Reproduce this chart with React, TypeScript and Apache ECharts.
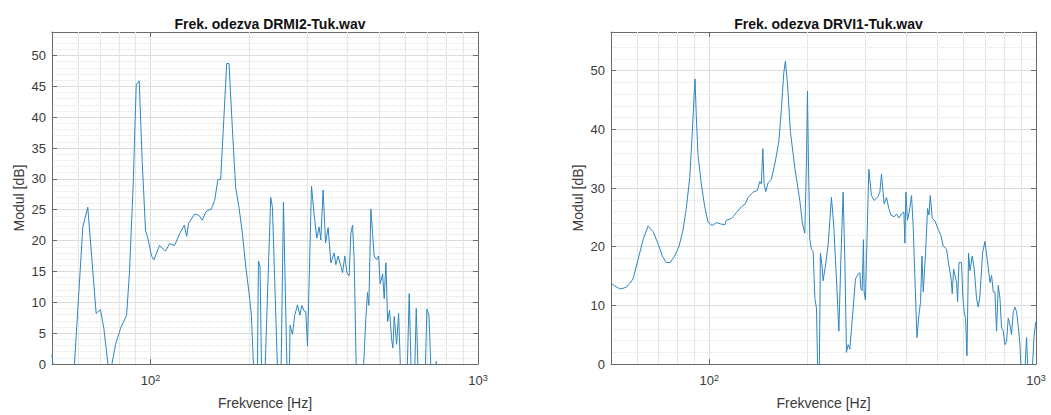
import React, { useEffect, useRef } from 'react';
import * as echarts from 'echarts';

// ---- Data ----
const titles = ['Frek. odezva DRMI2-Tuk.wav', 'Frek. odezva DRVI1-Tuk.wav'];
const xName = 'Frekvence [Hz]';
const yName = 'Modul [dB]';

const leftFreq = [50, 50.9, 58.1, 62.1, 64.3, 68.2, 70.3, 72.0, 74.1, 75.2, 76.2, 78.2, 81.0, 84.5, 86.2, 88.5, 90.4, 92.3, 94.3, 96.5, 98.4, 100.7, 102.4, 106.5, 111.1, 114.3, 118.4, 122.9, 126.8, 128.9, 130.7, 136.3, 140.5, 143.9, 147.3, 149.7, 153.3, 156.9, 160.6, 163.7, 166.8, 170.8, 173.6, 177.8, 181.9, 186.2, 190.7, 195.2, 199.8, 203.2, 206.1, 209.4, 211.7, 213.5, 215.9, 218.8, 222.4, 232.8, 235.6, 245.5, 249.8, 254.6, 262.0, 265.2, 266.7, 271.3, 275.7, 281.0, 285.6, 289.7, 294.4, 297.9, 301.5, 310.1, 315.8, 321.8, 327.1, 331.1, 336.5, 342.3, 348.6, 355.3, 363.7, 368.0, 374.0, 381.1, 385.7, 392.0, 397.6, 404.1, 409.0, 413.9, 418.6, 425.6, 444.9, 454.4, 459.9, 464.2, 470.8, 476.4, 481.9, 490.1, 497.0, 502.7, 511.3, 517.1, 523.4, 529.7, 537.0, 544.7, 549.7, 554.8, 564.2, 572.2, 581.5, 606.6, 616.5, 626.1, 639.5, 647.7, 657.7, 688.6, 698.3, 708.3, 720.8, 738.8, 745.6, 751.9, 1000];
const leftDb = [1.5, -3, -3, 22.2, 25.4, 8.2, 8.8, 5.8, 0, -3, 0, 3.2, 5.8, 7.9, 14.8, 29.1, 45.2, 45.9, 32.8, 21.7, 20.1, 17.5, 16.9, 19.2, 18.3, 19.5, 19.2, 21.2, 22.5, 20.7, 22.8, 24.3, 24.1, 23.3, 24.6, 24.9, 25.1, 26.5, 29.9, 29.9, 38.1, 48.7, 48.7, 38.1, 28.6, 25.4, 21.2, 15.9, 11.6, 7.9, 0, -8, -5, 16.7, 15.9, -5, -5, 27.0, 25.4, -5, -5, 26.2, -5, -3, 6.3, 4.8, 7.9, 9.6, 7.9, 9.5, 8.6, 8.5, 2.9, 28.8, 24.3, 20.4, 22.2, 20.1, 28.2, 19.6, 22.1, 16.4, 18.0, 16.1, 17.5, 15.9, 14.8, 17.5, 14.8, 14.3, 21.2, 22.5, 16.9, -3, -3, 7.4, 11.6, 9.5, 25.1, 21.2, 17.5, 16.9, 17.5, 13.0, 14.6, 10.6, 16.4, 6.9, 8.7, 4.0, 2.6, 7.7, 3.2, 8.2, -3, -3, 11.4, -3, -3, 9.0, -3, -3, 8.9, 7.9, -3, -3, 0.4, -3, -3];

const rightFreq = [50, 51.3, 53.2, 54.4, 55.7, 57.0, 58.4, 60.5, 62.7, 64.9, 67.2, 69.6, 71.8, 73.8, 75.9, 78.3, 80.8, 83.1, 85.0, 87.1, 88.5, 89.8, 90.4, 91.2, 92.3, 94.5, 96.8, 99.1, 101.9, 105.1, 108.1, 111.5, 112.7, 116.8, 121.0, 125.3, 128.9, 131.4, 136.1, 140.3, 142.7, 144.3, 145.8, 147.1, 148.9, 151.3, 154.9, 159.3, 163.2, 166.2, 169.0, 170.9, 173.4, 177.1, 182.7, 189.2, 192.7, 196.0, 198.3, 199.7, 201.1, 203.1, 205.4, 207.9, 210.4, 212.8, 215.3, 216.8, 218.8, 221.4, 222.9, 226.7, 231.0, 236.5, 240.5, 245.0, 249.2, 252.7, 256.8, 259.9, 262.9, 266.0, 269.2, 275.6, 280.1, 285.5, 288.9, 291.0, 293.6, 296.3, 297.8, 300.5, 302.7, 307.8, 313.5, 319.6, 327.1, 332.7, 336.5, 342.9, 348.5, 354.5, 359.6, 368.1, 374.1, 380.5, 387.5, 394.1, 396.9, 399.7, 404.3, 409.2, 415.9, 420.9, 426.0, 432.1, 438.2, 443.2, 447.6, 451.7, 459.1, 465.6, 470.2, 474.6, 481.3, 490.6, 502.1, 511.7, 520.0, 532.3, 541.4, 549.1, 554.2, 559.3, 564.9, 571.3, 575.4, 581.1, 591.6, 597.5, 603.0, 608.6, 614.7, 621.7, 627.9, 638.1, 647.1, 657.7, 665.6, 673.6, 686.1, 697.8, 709.2, 723.0, 731.1, 739.9, 748.8, 757.3, 766.4, 775.7, 784.5, 793.9, 803.5, 812.6, 822.3, 832.3, 841.7, 851.9, 862.2, 872.0, 882.5, 893.1, 903.3, 920.7, 935.7, 947.0, 969.4, 986.0, 997.2, 1000];
const rightDb = [13.8, 13.3, 12.8, 12.9, 13.1, 13.7, 14.5, 17.8, 21.2, 23.5, 22.6, 20.6, 18.4, 17.3, 17.3, 18.4, 20.1, 22.9, 26.5, 31.8, 38.5, 45.7, 48.6, 42.4, 35.7, 30.7, 26.8, 24.2, 23.6, 24.1, 23.9, 23.7, 24.5, 24.8, 25.8, 26.8, 27.3, 28.4, 29.3, 29.6, 31.1, 30.7, 36.7, 30.7, 29.4, 30.9, 31.5, 34.6, 37.9, 43.5, 49.6, 51.6, 47.9, 39.6, 33.4, 27.9, 24.0, 22.3, 34.6, 46.5, 34.6, 21.2, 19.5, 19.2, 11.2, 9.5, -5, -5, 18.9, 16.7, 14.2, 16.7, 20.3, 28.4, 23.4, 14.5, 5.6, 17.8, 29.3, 17.8, 2.0, 3.3, 2.5, 9.5, 14.5, 15.3, 15.6, 12.8, 12.5, 21.2, 12.3, 10.9, 17.8, 33.2, 28.7, 27.9, 28.4, 29.3, 32.4, 27.3, 28.4, 26.5, 25.4, 25.1, 25.6, 24.9, 25.6, 25.9, 20.6, 29.3, 24.5, 25.9, 28.7, 23.4, 14.5, 4.5, 8.4, 10.6, 18.4, 12.3, 18.9, 26.5, 25.4, 28.7, 24.8, 24.4, 22.9, 21.9, 20.1, 19.6, 16.7, 14.8, 12.0, 16.2, 15.1, 13.9, 10.6, 17.3, 17.3, 11.2, 8.9, 7.8, 1.4, 18.9, 15.9, 18.4, 16.2, 11.2, 9.7, 11.7, 18.9, 20.9, 17.8, 13.9, 15.1, 12.3, 12.3, 5.6, 13.4, 11.2, 6.1, 5.6, 3.3, 3.9, 7.8, 6.7, 5.0, 8.9, 9.7, 8.9, 6.4, 3.3, -3, -3, 4.5, -3, -3, 4.5, 7.0, 7.2];

const minorFreqs = [60, 70, 80, 90, 200, 300, 400, 500, 600, 700, 800, 900];
const yMaxes = [53.8, 56.6];
const yIntervals = [5, 10];
const xMin = 50;
const xMax = 1000;

const FONT = '"Liberation Sans", Arial, Helvetica, sans-serif';
const AXIS_COLOR = '#6b6b6b';
const LABEL_COLOR = '#3a3a3a';
const LINE_COLOR = '#2f86c0';

const grids = [
  { left: 52, top: 32, width: 426, height: 338 },
  { left: 611, top: 32, width: 425, height: 338 },
];

function buildOption() {
  const xAxes: any[] = [];
  const yAxes: any[] = [];
  const series: any[] = [];
  const titleOpts: any[] = [];
  const datasets = [
    leftFreq.map((f, i) => [f, leftDb[i]]),
    rightFreq.map((f, i) => [f, rightDb[i]]),
  ];
  for (let i = 0; i < 2; i++) {
    const g = grids[i];
    titleOpts.push({
      text: titles[i],
      left: g.left + g.width / 2,
      textAlign: 'center',
      top: 12,
      textStyle: { fontSize: 14, fontWeight: 'bold', color: '#111', fontFamily: FONT },
    });
    xAxes.push({
      type: 'log',
      logBase: 10,
      gridIndex: i,
      min: xMin,
      max: xMax,
      position: 'bottom',
      name: xName,
      nameLocation: 'middle',
      nameGap: 32,
      nameTextStyle: { fontSize: 14, color: LABEL_COLOR, fontFamily: FONT },
      axisLine: { show: true, onZero: false, lineStyle: { color: AXIS_COLOR, width: 1 } },
      axisTick: { show: true, inside: true, length: 5, lineStyle: { color: AXIS_COLOR } },
      axisLabel: {
        margin: 9,
        showMinLabel: false,
        formatter: (v: number) =>
          Math.abs(v - 100) < 1e-6 ? '{b|10}{s|2}' : Math.abs(v - 1000) < 1e-6 ? '{b|10}{s|3}' : '',
        rich: {
          b: { fontSize: 13, color: LABEL_COLOR, fontFamily: FONT },
          s: { fontSize: 9, color: LABEL_COLOR, fontFamily: FONT, verticalAlign: 'top', padding: [0, 0, 6, 0] },
        },
      },
      splitLine: { show: true, lineStyle: { color: '#dcdcdc', width: 1 } },
    });
    xAxes.push({
      type: 'log',
      logBase: 10,
      gridIndex: i,
      min: xMin,
      max: xMax,
      position: 'top',
      axisLine: { show: true, onZero: false, lineStyle: { color: AXIS_COLOR, width: 1 } },
      axisTick: { show: true, inside: true, length: 5, lineStyle: { color: AXIS_COLOR } },
      axisLabel: { show: false },
      splitLine: { show: false },
    });
    yAxes.push({
      type: 'value',
      gridIndex: i,
      min: 0,
      max: yMaxes[i],
      interval: yIntervals[i],
      position: 'left',
      name: yName,
      nameLocation: 'middle',
      nameGap: 26,
      nameTextStyle: { fontSize: 14, color: LABEL_COLOR, fontFamily: FONT },
      axisLine: { show: true, onZero: false, lineStyle: { color: AXIS_COLOR, width: 1 } },
      axisTick: { show: true, inside: true, length: 5, lineStyle: { color: AXIS_COLOR } },
      axisLabel: { fontSize: 13, color: LABEL_COLOR, fontFamily: FONT, margin: 6, showMaxLabel: false },
      splitLine: { show: true, lineStyle: { color: '#dcdcdc', width: 1 } },
      minorTick: { show: false, splitNumber: 5 },
      minorSplitLine: { show: true, lineStyle: { color: '#e2e2e2', width: 1, type: 'dotted' } },
    });
    yAxes.push({
      type: 'value',
      gridIndex: i,
      min: 0,
      max: yMaxes[i],
      interval: yIntervals[i],
      position: 'right',
      axisLine: { show: true, onZero: false, lineStyle: { color: AXIS_COLOR, width: 1 } },
      axisTick: { show: true, inside: true, length: 5, lineStyle: { color: AXIS_COLOR } },
      axisLabel: { show: false },
      splitLine: { show: false },
    });
    series.push({
      type: 'line',
      xAxisIndex: 2 * i,
      yAxisIndex: 2 * i,
      data: datasets[i],
      showSymbol: false,
      symbol: 'none',
      clip: true,
      z: 3,
      lineStyle: { color: LINE_COLOR, width: 1 },
      markLine: {
        silent: true,
        z: 1,
        symbol: ['none', 'none'],
        label: { show: false },
        lineStyle: { color: '#e6e6e6', width: 1, type: 'solid' },
        data: minorFreqs.map((v) => ({ xAxis: v })),
      },
    });
  }
  return {
    animation: false,
    backgroundColor: '#ffffff',
    title: titleOpts,
    grid: grids,
    xAxis: xAxes,
    yAxis: yAxes,
    series,
  };
}

export default function App() {
  const ref = useRef<HTMLDivElement>(null);
  useEffect(() => {
    document.body.style.margin = '0';
    if (!ref.current) return;
    const chart = echarts.init(ref.current, undefined, { renderer: 'svg' });
    chart.setOption(buildOption() as any);
    return () => chart.dispose();
  }, []);
  return <div ref={ref} style={{ width: 1051, height: 415 }} />;
}
